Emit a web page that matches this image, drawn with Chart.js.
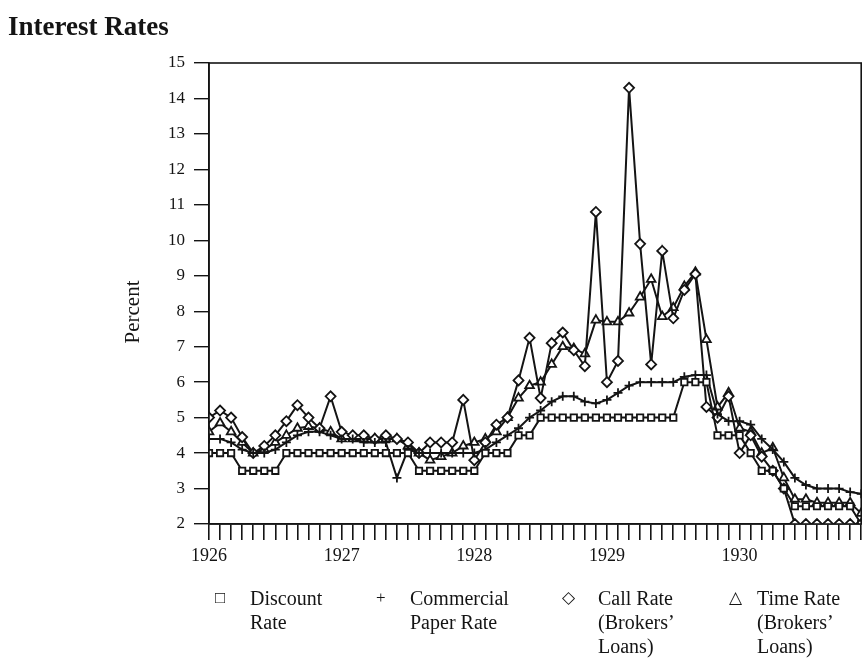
<!DOCTYPE html>
<html>
<head>
<meta charset="utf-8">
<script src="https://cdn.jsdelivr.net/npm/chart.js@4.4.1/dist/chart.umd.min.js"></script>
<style>
  body { margin: 0; background: #fff; }
  #wrap { position: relative; width: 868px; height: 662px; }
  #title { position: absolute; left: 8px; top: 11px; font-family: 'Liberation Serif', 'DejaVu Serif', serif; font-weight: bold; font-size: 27px; color: #141414; }
  #legend { position: absolute; left: 0; top: 586px; width: 868px; font-family: 'Liberation Serif', 'DejaVu Serif', serif; font-size: 20px; color: #141414; }
  .item { position: absolute; line-height: 24px; }
  .sym { position: absolute; font-size: 17px; line-height: 24px; }
</style>
</head>
<body>
<div id="wrap">
  <canvas id="rates" width="868" height="662"></canvas>
  <div id="title">Interest Rates</div>
  <div id="legend"></div>
</div>
<script>
// monthly values, Jan 1926 .. Dec 1930
const yearLabels = ['1926', '1927', '1928', '1929', '1930'];

const discountRate = [
  4, 4, 4, 3.5, 3.5, 3.5, 3.5, 4, 4, 4, 4, 4,
  4, 4, 4, 4, 4, 4, 4, 3.5, 3.5, 3.5, 3.5, 3.5,
  3.5, 4, 4, 4, 4.5, 4.5, 5, 5, 5, 5, 5, 5,
  5, 5, 5, 5, 5, 5, 5, 6, 6, 6, 4.5, 4.5,
  4.5, 4, 3.5, 3.5, 3, 2.5, 2.5, 2.5, 2.5, 2.5, 2.5, 2
];
const commercialPaper = [
  4.4, 4.4, 4.3, 4.1, 4.0, 4.0, 4.1, 4.3, 4.5, 4.6, 4.6, 4.5,
  4.4, 4.4, 4.3, 4.3, 4.3, 3.3, 4.1, 4.0, 4.0, 4.0, 4.0, 4.0,
  4.0, 4.1, 4.3, 4.5, 4.7, 5.0, 5.2, 5.45, 5.6, 5.6, 5.45, 5.4,
  5.5, 5.7, 5.9, 6.0, 6.0, 6.0, 6.0, 6.15, 6.2, 6.2, 5.1, 4.9,
  4.9, 4.8, 4.4, 4.1, 3.75, 3.3, 3.1, 3.0, 3.0, 3.0, 2.9, 2.85
];
const callRate = [
  5.0, 5.2, 5.0, 4.45, 4.0, 4.2, 4.5, 4.9, 5.35, 5.0, 4.7, 5.6,
  4.6, 4.5, 4.5, 4.4, 4.5, 4.4, 4.3, 4.0, 4.3, 4.3, 4.3, 5.5,
  3.8, 4.3, 4.8, 5.0, 6.05, 7.25, 5.55, 7.1, 7.4, 6.9, 6.45, 10.8,
  6.0, 6.6, 14.3, 9.9, 6.5, 9.7, 7.8, 8.6, 9.05, 5.3, 5.0, 5.6,
  4.0, 4.5, 3.9, 3.5, 3.0, 2.0, 2.0, 2.0, 2.0, 2.0, 2.0, 2.0
];
const timeRate = [
  4.6, 4.85, 4.6, 4.3, 4.0, 4.1, 4.3, 4.5, 4.7, 4.75, 4.7, 4.6,
  4.4, 4.4, 4.4, 4.4, 4.4, 4.4, 4.2, 4.0, 3.8, 3.9, 4.0, 4.2,
  4.3, 4.4, 4.6, 5.0, 5.55, 5.9, 6.0, 6.5, 7.0, 6.95, 6.8, 7.75,
  7.7, 7.7, 7.95, 8.4, 8.9, 7.85, 8.1, 8.7, 9.1, 7.2, 5.3, 5.7,
  4.7, 4.6, 4.0, 4.15, 3.3, 2.7, 2.7, 2.6, 2.6, 2.6, 2.6, 2.3
];

const legendItems = [
  { sym: '\u25A1', lines: ['Discount', 'Rate'], symX: 215, textX: 250 },
  { sym: '+', lines: ['Commercial', 'Paper Rate'], symX: 376, textX: 410 },
  { sym: '\u25C7', lines: ['Call Rate', '(Brokers\u2019', 'Loans)'], symX: 562, textX: 598 },
  { sym: '\u25B3', lines: ['Time Rate', '(Brokers\u2019', 'Loans)'], symX: 729, textX: 757 }
];

const ink = '#141414';
const serif = "'Liberation Serif', 'DejaVu Serif', serif";

function toPoints(arr) {
  return arr.map((v, i) => ({ x: i, y: v }));
}

function series(label, arr, style, radius) {
  return {
    label: label,
    data: toPoints(arr),
    borderColor: ink,
    borderWidth: 2,
    pointStyle: style,
    pointRadius: radius,
    pointBorderWidth: 1.8,
    pointBorderColor: ink,
    pointBackgroundColor: '#fff',
    tension: 0
  };
}

// box round the plot area, and the y title sitting a bit below centre
const frame = {
  id: 'frame',
  afterDraw(chart) {
    const a = chart.chartArea;
    const ctx = chart.ctx;
    ctx.save();
    ctx.strokeStyle = ink;
    ctx.lineWidth = 1.6;
    ctx.strokeRect(a.left, a.top, a.right - a.left, a.bottom - a.top);
    ctx.translate(133, 312);
    ctx.rotate(-Math.PI / 2);
    ctx.fillStyle = ink;
    ctx.font = '21px ' + serif;
    ctx.textAlign = 'center';
    ctx.textBaseline = 'middle';
    ctx.fillText('Percent', 0, 0);
    ctx.restore();
  }
};

new Chart(document.getElementById('rates'), {
  type: 'line',
  data: {
    datasets: [
      series('Discount Rate', discountRate, 'rect', 4.5),
      series('Commercial Paper Rate', commercialPaper, 'cross', 4.5),
      series('Call Rate (Brokers\u2019 Loans)', callRate, 'rectRot', 5),
      series('Time Rate (Brokers\u2019 Loans)', timeRate, 'triangle', 5)
    ]
  },
  options: {
    responsive: false,
    animation: false,
    layout: { padding: { left: 0, right: 3, top: 63, bottom: 0 } },
    plugins: {
      legend: { display: false },
      tooltip: { enabled: false }
    },
    scales: {
      x: {
        type: 'linear',
        min: 0,
        max: 59,
        afterFit: s => { s.height = 138; },
        border: { color: ink, width: 1.6 },
        grid: { drawOnChartArea: false, color: ink, lineWidth: 1.6, tickLength: 16 },
        ticks: {
          stepSize: 1,
          autoSkip: false,
          maxTicksLimit: 100,
          maxRotation: 0,
          color: ink,
          padding: 5,
          font: { family: serif, size: 18 },
          callback: v => (v % 12 === 0 ? yearLabels[v / 12] : '')
        }
      },
      y: {
        min: 2,
        max: 15,
        afterFit: s => { s.width = 209; },
        border: { color: ink, width: 1.6 },
        grid: { drawOnChartArea: false, color: ink, lineWidth: 1.4, tickLength: 15 },
        ticks: { stepSize: 1, color: ink, padding: 9, font: { family: serif, size: 17 } }
      }
    }
  },
  plugins: [frame]
});

const legend = document.getElementById('legend');
legendItems.forEach(it => {
  const s = document.createElement('div');
  s.className = 'sym';
  s.style.left = it.symX + 'px';
  s.textContent = it.sym;
  legend.appendChild(s);
  const t = document.createElement('div');
  t.className = 'item';
  t.style.left = it.textX + 'px';
  t.innerHTML = it.lines.join('<br>');
  legend.appendChild(t);
});
</script>
</body>
</html>
